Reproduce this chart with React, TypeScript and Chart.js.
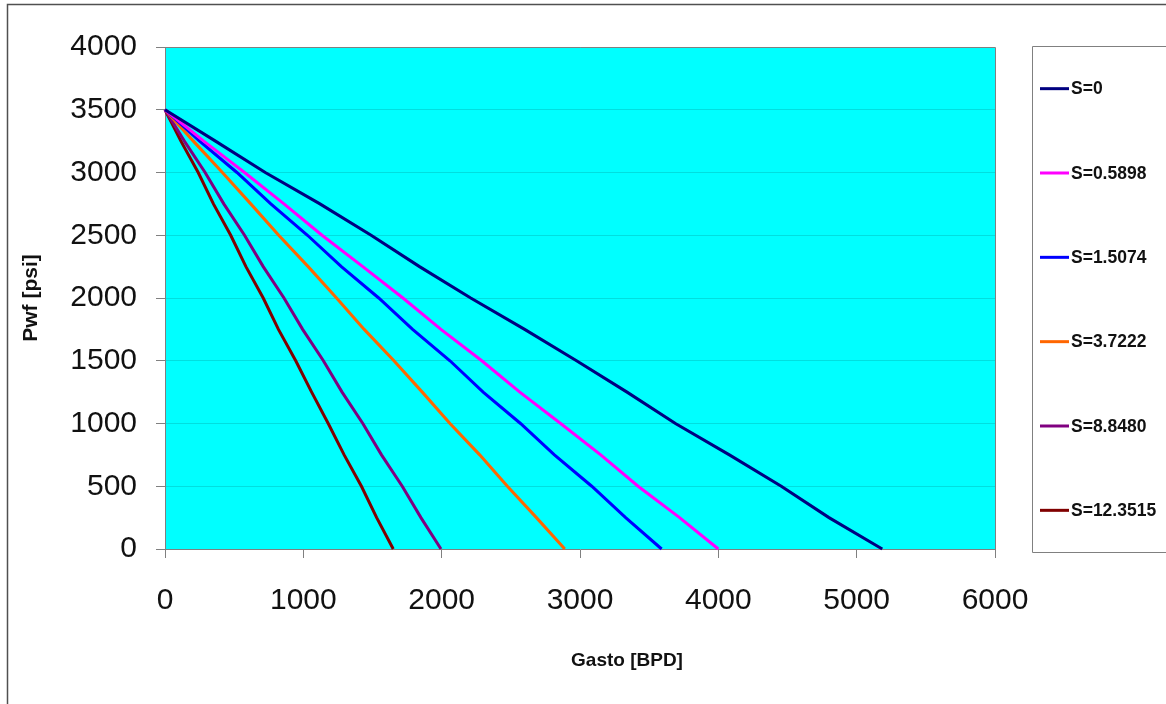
import React, { useEffect, useRef } from "react";
import { Chart, registerables } from "chart.js";

Chart.register(...registerables);

// Flowing bottom-hole pressure (psi) at which rates were read
const pwf = [3500, 3250, 3000, 2750, 2500, 2250, 2000, 1750, 1500, 1250, 1000, 750, 500, 250, 0];

// Rates (BPD) for each skin value
const qS0 = [0, 365, 725, 1120, 1490, 1840, 2210, 2600, 2975, 3340, 3690, 4080, 4455, 4800, 5185];
const qS05898 = [0, 280, 575, 860, 1135, 1430, 1720, 1995, 2290, 2565, 2860, 3150, 3420, 3720, 4000];
const qS15074 = [0, 250, 520, 765, 1030, 1275, 1545, 1790, 2060, 2300, 2570, 2815, 3085, 3330, 3590];
const qS37222 = [0, 205, 415, 620, 822, 1035, 1240, 1440, 1655, 1860, 2060, 2275, 2475, 2685, 2890];
const qS88480 = [0, 140, 290, 425, 575, 710, 860, 995, 1145, 1280, 1430, 1565, 1715, 1850, 1995];
const qS123515 = [0, 115, 240, 350, 475, 585, 710, 820, 945, 1060, 1180, 1295, 1420, 1530, 1650];

const seriesLabels = ["S=0", "S=0.5898", "S=1.5074", "S=3.7222", "S=8.8480", "S=12.3515"];
const seriesRates = [qS0, qS05898, qS15074, qS37222, qS88480, qS123515];
const seriesColors = ["#000080", "#FF00FF", "#0000FF", "#FF6600", "#800080", "#800000"];

const xTitle = "Gasto [BPD]";
const yTitle = "Pwf [psi]";
const xMin = 0, xMax = 6000, xStep = 1000;
const yMin = 0, yMax = 4000, yStep = 500;

const tickFont = "'Liberation Sans', Arial, sans-serif";
const boldFont = "'Liberation Sans', Arial, sans-serif";

const framePlugin = {
  id: "frame",
  beforeDraw(chart: any) {
    const { ctx, chartArea: a, width, height } = chart;
    ctx.save();
    ctx.fillStyle = "#ffffff";
    ctx.fillRect(0, 0, width, height);
    ctx.fillStyle = "#00FFFF";
    ctx.fillRect(a.left, a.top, a.right - a.left, a.bottom - a.top);
    ctx.strokeStyle = "#505050";
    ctx.lineWidth = 1.5;
    ctx.beginPath();
    ctx.moveTo(7.5, height + 2);
    ctx.lineTo(7.5, 4.5);
    ctx.lineTo(width + 2, 4.5);
    ctx.stroke();
    ctx.restore();
  },
  afterDraw(chart: any) {
    const { ctx, chartArea: a, width } = chart;
    ctx.save();
    // plot-area border (top and right)
    ctx.strokeStyle = "#808080";
    ctx.lineWidth = 1;
    ctx.beginPath();
    ctx.moveTo(Math.round(a.left) + 0.5, Math.round(a.top) + 0.5);
    ctx.lineTo(Math.round(a.right) + 0.5, Math.round(a.top) + 0.5);
    ctx.lineTo(Math.round(a.right) + 0.5, Math.round(a.bottom) + 0.5);
    ctx.stroke();

    // legend box
    const lx = 1032.5, ly = 46.5, lb = 552.5;
    ctx.strokeStyle = "#808080";
    ctx.beginPath();
    ctx.moveTo(width + 2, ly);
    ctx.lineTo(lx, ly);
    ctx.lineTo(lx, lb);
    ctx.lineTo(width + 2, lb);
    ctx.stroke();

    const ds = chart.data.datasets;
    const step = (lb - ly) / ds.length;
    ds.forEach((d: any, i: number) => {
      const y = ly + step * (i + 0.5);
      ctx.strokeStyle = d.borderColor;
      ctx.lineWidth = 3;
      ctx.beginPath();
      ctx.moveTo(1040, y);
      ctx.lineTo(1069, y);
      ctx.stroke();
      ctx.fillStyle = "#111111";
      ctx.font = `bold 17.5px ${boldFont}`;
      ctx.textAlign = "left";
      ctx.textBaseline = "middle";
      ctx.fillText(d.label, 1071, y + 1);
    });

    // x-axis title
    ctx.fillStyle = "#111111";
    ctx.font = `bold 19px ${boldFont}`;
    ctx.textAlign = "center";
    ctx.textBaseline = "middle";
    ctx.fillText(xTitle, 627, 661);
    ctx.restore();
  },
};

export default function App() {
  const canvasRef = useRef<HTMLCanvasElement | null>(null);

  useEffect(() => {
    document.body.style.margin = "0";
    const canvas = canvasRef.current;
    if (!canvas) return;
    const datasets = seriesLabels.map((label, i) => ({
      label,
      data: pwf.map((p, j) => ({ x: seriesRates[i][j], y: p })),
      borderColor: seriesColors[i],
      backgroundColor: seriesColors[i],
      borderWidth: 3,
      pointRadius: 0,
      showLine: true,
      tension: 0,
      fill: false,
      clip: false as any,
    }));

    const chart = new Chart(canvas, {
      type: "scatter",
      data: { datasets },
      plugins: [framePlugin],
      options: {
        animation: false,
        responsive: false,
        devicePixelRatio: 1,
        layout: { padding: { left: 0, top: 47, right: 171, bottom: 0 } },
        plugins: {
          legend: { display: false },
          tooltip: { enabled: false },
        },
        scales: {
          x: {
            type: "linear",
            min: xMin,
            max: xMax,
            afterFit(scale: any) {
              scale.height = 155;
            },
            ticks: {
              stepSize: xStep,
              color: "#111111",
              padding: 25,
              font: { family: tickFont, size: 30 },
              maxRotation: 0,
              callback: (v: any) => String(v),
            },
            grid: {
              drawOnChartArea: false,
              tickLength: 9,
              tickColor: "#808080",
            },
            border: { color: "#808080", width: 1 },
          },
          y: {
            type: "linear",
            min: yMin,
            max: yMax,
            afterFit(scale: any) {
              scale.width = 165;
            },
            ticks: {
              stepSize: yStep,
              color: "#111111",
              padding: 19,
              font: { family: tickFont, size: 30 },
              callback: (v: any) => String(v),
            },
            grid: {
              color: "rgba(0, 110, 110, 0.22)",
              lineWidth: 1,
              tickLength: 9,
              tickColor: "#808080",
            },
            border: { color: "#808080", width: 1 },
            title: {
              display: true,
              text: yTitle,
              color: "#111111",
              font: { family: boldFont, size: 21, weight: "bold" },
              padding: { top: 19, bottom: 0 },
            },
          },
        },
      },
    });
    return () => chart.destroy();
  }, []);

  return (
    <div style={{ position: "absolute", left: 0, top: 0, width: 1166, height: 704 }}>
      <canvas ref={canvasRef} width={1166} height={704} />
    </div>
  );
}
